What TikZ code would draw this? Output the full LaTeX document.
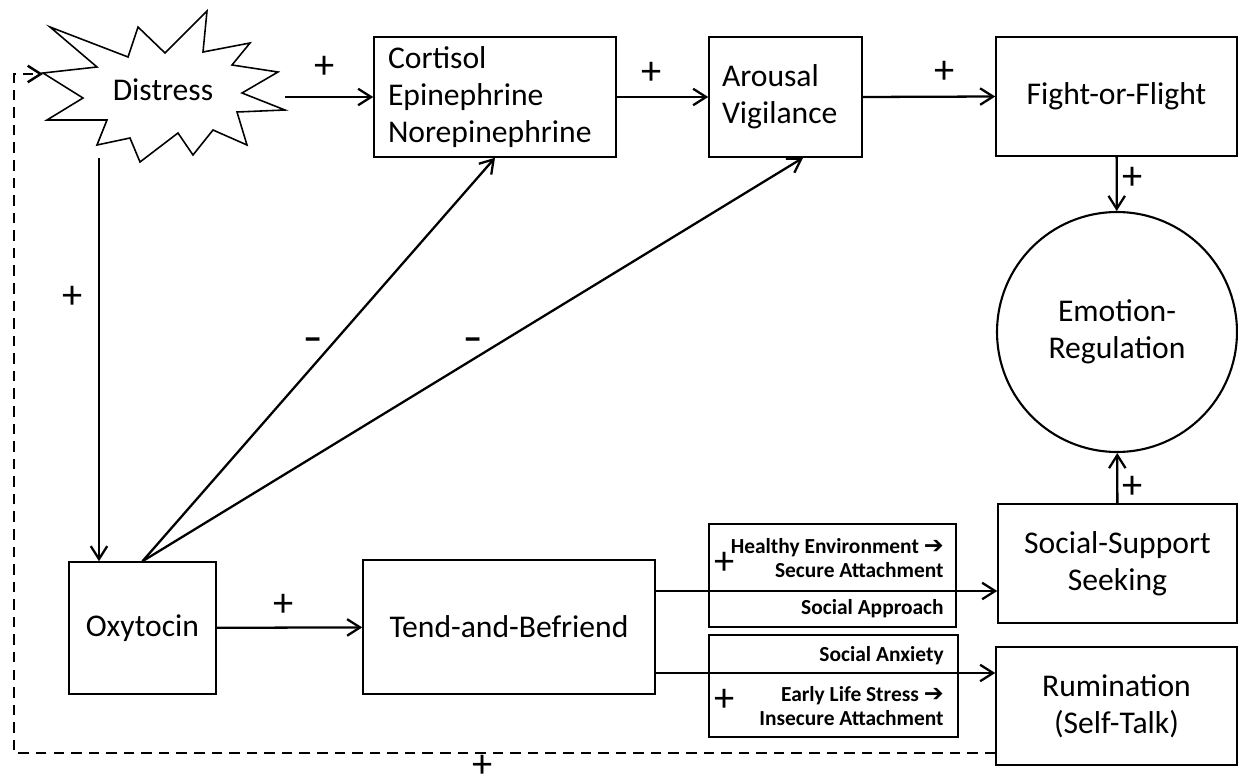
\documentclass[tikz,border=0pt]{standalone}
\usepackage{fontspec}
\setmainfont{Carlito}
\newfontfamily\symfont{DejaVu Sans}
\usetikzlibrary{positioning, calc, arrows.meta}

\newcommand{\bigarr}{{\symfont\bfseries\fontsize{13.5}{13.6}\selectfont ➔}}

\begin{document}
\begin{tikzpicture}[x=0.02cm, y=-0.02cm, font=\normalfont\fontsize{18}{21.3}\selectfont,
    box/.style={draw, line width=0.9pt, inner sep=0pt},
    info/.style={draw, line width=0.7pt},
    small/.style={font=\normalfont\bfseries\fontsize{12.2}{13.6}\selectfont, align=right, anchor=east, inner sep=0pt},
    sign/.style={inner sep=0pt, font=\normalfont\fontsize{23}{23}\selectfont},
    conn/.style={-{Straight Barb[length=2.6mm, width=3.3mm]}, line width=1.3pt}]
  \useasboundingbox (0,0) rectangle (1238,784);

  \draw[line width=0.9pt] (50,27) -- (128,57) -- (138,27) -- (165,53) -- (207,11) -- (203,52)
    -- (250,43) -- (232,65) -- (278,72) -- (242,93) -- (285,110) -- (237,112) -- (247,145)
    -- (213,130) -- (193,155) -- (178,133) -- (140,162) -- (130,138) -- (97,145) -- (107,120)
    -- (47,120) -- (83,98) -- (43,73) -- (97,67) -- cycle;
  \node (distress) at (163,90) {Distress};
  \coordinate (ds-e) at (285,97);
  \coordinate (ds-s) at (99,158);
  \coordinate (ds-w) at (43,74);

  \node[box, minimum width=4.84cm, minimum height=2.4cm, text width=4.28cm, align=left] (cort) at (495,97) {Cortisol\\Epinephrine\\Norepinephrine};
  \node[box, minimum width=3.06cm, minimum height=2.4cm, text width=2.54cm, align=left] (arous) at (785.5,97) {Arousal\\Vigilance};
  \node[box, minimum width=4.82cm, minimum height=2.38cm] (fight) at (1116.5,96.5) {Fight-or-Flight};
  \node[draw, circle, line width=1.2pt, minimum size=4.8cm, align=center, inner sep=0pt] (emo) at (1117,332) {Emotion-\\Regulation};
  \node[box, minimum width=4.78cm, minimum height=2.38cm, align=center] (social) at (1117.5,563.5) {Social-Support\\Seeking};
  \node[box, minimum width=4.82cm, minimum height=2.36cm, align=center] (rum) at (1116.5,706) {Rumination\\(Self-Talk)};
  \node[box, minimum width=2.94cm, minimum height=2.64cm] (oxy) at (142.5,628) {Oxytocin};
  \node[box, minimum width=5.84cm, minimum height=2.68cm] (tend) at (509,627) {Tend-and-Befriend};

  \node[info, minimum width=4.94cm, minimum height=2.06cm] (envbox) at (832.5,575.5) {};
  \node[info, minimum width=4.98cm, minimum height=2.04cm] (stressbox) at (833.5,686) {};
  \node[small] (healthy) at (944,558) {Healthy Environment \bigarr\\Secure Attachment};
  \node[small] (approach) at (944,609) {Social Approach};
  \node[small] (anxiety) at (944,656) {Social Anxiety};
  \node[small] (early) at (944,706) {Early Life Stress \bigarr\\Insecure Attachment};

  \foreach \x/\y [count=\i] in {325/67, 652/73, 945/72, 1133/178, 1133/487, 73/297, 284/605, 725/563, 725/700, 483/766}
    \node[sign] (plus\i) at (\x,\y) {+};
  \node[sign, font=\normalfont\bfseries\fontsize{22}{22}\selectfont] (minus1) at (313,344) {–};
  \node[sign, font=\normalfont\bfseries\fontsize{22}{22}\selectfont] (minus2) at (473,344) {–};

  \draw[conn] (ds-e) -- (cort);
  \draw[conn] (cort) -- (arous);
  \draw[conn] (arous.east) -- (fight.west);
  \draw[conn] (fight) -- (emo);
  \draw[conn] (social) -- (emo);
  \draw[conn] (ds-s) -- (ds-s |- oxy.north);
  \draw[conn] (oxy.north) -- (cort.south);
  \draw[conn] (oxy.north) -- ([xshift=0.35cm]arous.south);
  \draw[conn] (oxy) -- (tend);
  \coordinate (up) at (700,591);
  \coordinate (lo) at (700,673);
  \draw[conn] (tend.east |- up) -- (social.west |- up);
  \draw[conn] (tend.east |- lo) -- (rum.west |- lo);
  \coordinate (fb) at (14,753);
  \draw[conn, line width=1.4pt, dash pattern=on 6pt off 4pt] (rum.west |- fb) -- (fb) |- (ds-w);
\end{tikzpicture}
\end{document}
